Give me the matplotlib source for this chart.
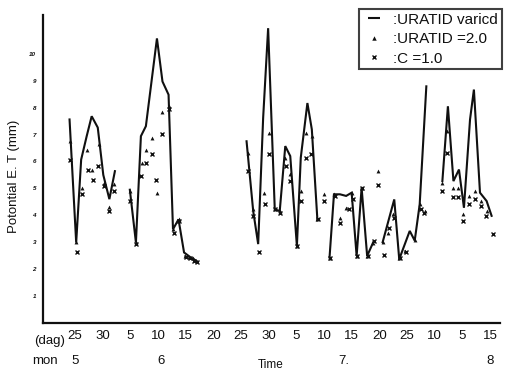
import numpy as np
import matplotlib
matplotlib.use("Agg")
import matplotlib.pyplot as plt
from matplotlib.lines import Line2D

plt.rcParams['font.family'] = ['Liberation Sans', 'DejaVu Sans']

nan = np.nan
# x = days since 25 May; NaN separates gaps in the record
line_days = [-1.0, 0.2, 1.1, 2.1, 3.0, 4.1, 5.1, 6.2, 7.2, nan,
             9.9, 11.0, 11.9, 12.8, 14.8, 15.8, 16.9, 17.7, 18.7, 19.7, 20.8, 21.6, 22.0, nan,
             31.0, 32.2, 33.1, 34.0, 34.9, 36.1, 37.0, 38.0, 38.9, 40.1, 40.8, 42.0, 42.8, 43.8, nan,
             46.0, 46.8, 47.9, 49.0, 50.0, 50.9, 51.8, 52.8, 53.9, nan,
             55.6, 57.7, 58.6, 60.5, 61.4, 62.3, 63.5, nan,
             66.4, 67.4, 68.4, 69.4, 70.3, 71.4, 72.1, 73.2, 74.4, 75.3]
line_vals = [7.56, 2.99, 6.07, 6.94, 7.68, 7.26, 5.5, 4.6, 5.64, nan,
             4.95, 2.99, 6.94, 7.31, 10.57, 8.97, 8.48, 3.48, 3.85, 2.62, 2.45, 2.35, 2.3, nan,
             6.75, 4.16, 2.93, 7.62, 10.95, 4.22, 4.16, 6.57, 6.2, 2.86, 6.14, 8.17, 7.19, 3.85, nan,
             2.43, 4.78, 4.78, 4.72, 4.84, 2.49, 5.02, 2.49, 3.0, nan,
             3.0, 4.59, 2.37, 3.42, 3.06, 4.41, 8.79, nan,
             5.27, 8.05, 5.27, 5.7, 4.28, 7.56, 8.67, 4.84, 4.53, 3.98]

tri_days = [-1.0, 0.2, 1.2, 2.1, 3.1, 4.3, 5.2, 6.1, 7.1,
            9.9, 11.0, 12.1, 12.9, 13.9, 14.9, 15.8, 16.9, 17.7, 18.7, 19.9, 20.6, 21.3,
            31.2, 32.2, 34.2, 35.0, 36.1, 37.0, 38.0, 38.9, 40.1, 40.9, 41.8, 42.8, 43.8, 45.0,
            46.0, 46.8, 47.9, 49.0, 50.0, 50.9, 51.8, 52.8, 53.9, 54.8, 55.7, 56.6, 57.5, 58.6, 59.6, 61.4, 62.3, 63.3,
            66.4, 67.3, 68.4, 69.3, 70.2, 71.2, 72.3, 73.3, 74.4]
tri_vals = [6.75, 3.0, 5.03, 6.44, 5.7, 6.63, 5.2, 4.3, 5.15,
            4.9, 3.0, 5.95, 6.44, 6.88, 4.84, 7.83, 8.05, 3.48, 3.85, 2.49, 2.44, 2.4,
            6.31, 4.22, 4.84, 7.06, 4.22, 4.16, 6.14, 5.52, 2.86, 4.9, 7.06, 6.94, 3.85, 4.81,
            2.43, 4.78, 3.91, 4.28, 4.84, 2.49, 5.02, 2.49, 2.99, 5.64, 3.0, 3.36, 4.04, 2.43, 2.68, 3.1, 4.41, 4.16,
            5.21, 7.12, 5.0, 5.0, 4.04, 4.72, 4.9, 4.53, 4.16]

c_days = [-1.0, 0.3, 1.2, 2.3, 3.2, 4.1, 5.2, 6.1, 7.1,
          9.9, 11.1, 11.9, 12.9, 13.9, 14.7, 15.8, 16.9, 17.8, 18.8, 20.1, 20.8, 21.5, 22.0,
          31.3, 32.2, 33.3, 34.3, 35.0, 36.2, 37.1, 38.1, 38.9, 40.2, 40.9, 41.8, 42.6, 43.9, 45.0,
          46.1, 46.9, 47.9, 49.6, 50.2, 51.0, 51.9, 52.9, 54.1, 54.8, 55.8, 56.8, 57.6, 58.7, 59.8, 62.5, 63.1,
          66.4, 67.3, 68.4, 69.3, 70.2, 71.2, 72.3, 73.3, 74.3, 75.6]
c_vals = [6.04, 2.62, 4.78, 5.7, 5.3, 5.83, 5.09, 4.15, 4.9,
          4.53, 2.95, 5.46, 5.93, 6.26, 5.33, 7.02, 7.95, 3.36, 3.79, 2.45, 2.4, 2.32, 2.28,
          5.64, 3.98, 2.62, 4.41, 6.26, 4.22, 4.1, 5.83, 5.27, 2.86, 4.53, 6.14, 6.26, 3.85, 4.53,
          2.43, 4.7, 3.7, 4.22, 4.6, 2.49, 5.02, 2.49, 3.06, 5.11, 2.52, 3.54, 3.91, 2.43, 2.62, 4.22, 4.1,
          4.9, 6.31, 4.69, 4.69, 3.79, 4.41, 4.59, 4.35, 3.98, 3.3]

tick_days = [0, 5, 10, 15, 20, 25, 30, 35, 40, 45, 50, 55, 60, 65, 70, 75]
tick_labels = ['25', '30', '5', '10', '15', '20', '25', '30', '5', '10', '15', '20', '25', '10', '5', '15']
month_days = [0, 15.5, 48.5, 75]
month_labels = ['5', '6', '7.', '8']
y_ticks = [1, 2, 3, 4, 5, 6, 7, 8, 9, 10]

ink = '#101010'
fig = plt.figure(figsize=(5.07, 3.72), dpi=100)
ax = fig.add_axes([0.0848, 0.1317, 0.9012, 0.828])

ax.plot(line_days, line_vals, color=ink, lw=1.5, solid_joinstyle='miter')
ax.plot(tri_days, tri_vals, ls='none', marker='^', ms=2.8, color=ink, mew=0)
ax.plot(c_days, c_vals, ls='none', marker='x', ms=2.4, color=ink, mew=1.0)

ax.set_xlim(-5.8, 76.8)
ax.set_ylim(0, 11.44)
for s in ['top', 'right']:
    ax.spines[s].set_visible(False)
for s in ['left', 'bottom']:
    ax.spines[s].set_linewidth(1.6)
    ax.spines[s].set_color(ink)

ax.set_xticks(tick_days)
ax.set_xticklabels(tick_labels, fontsize=9.5, color=ink)
ax.set_yticks(y_ticks)
ax.set_yticklabels([str(v) for v in y_ticks], fontsize=4.5, style='italic', fontweight='bold', color=ink)
ax.tick_params(axis='both', length=0)
ax.tick_params(axis='x', pad=5)
ax.tick_params(axis='y', pad=5)

trans = ax.get_xaxis_transform()
ax.text(-1.8, -0.04, '(dag)', transform=trans, fontsize=9.5, color=ink, ha='right', va='top')
ax.text(-3.1, -0.105, 'mon', transform=trans, fontsize=9.5, color=ink, ha='right', va='top')
for d, lab in zip(month_days, month_labels):
    ax.text(d, -0.105, lab, transform=trans, fontsize=9.5, color=ink, ha='center', va='top')

fig.text(271 / 507, 1 - 365 / 372, 'Time', fontsize=8.5, color=ink, ha='center', va='center')
fig.text(14 / 507, 1 - 176 / 372, 'Potontial E. T (mm)', fontsize=9.5, color=ink,
         rotation=90, ha='center', va='center')

handles = [Line2D([], [], ls='none', marker='_', ms=9, mew=1.5, color=ink),
           Line2D([], [], ls='none', marker='^', ms=3.2, color=ink, mew=0),
           Line2D([], [], ls='none', marker='x', ms=3, color=ink, mew=1.0)]
labels = [':URATID varicd', ':URATID =2.0', ':C =1.0']
leg = fig.legend(handles, labels, loc='upper left', bbox_to_anchor=(359 / 507, 1 - 9 / 372),
                 frameon=True, fancybox=False, edgecolor=ink, fontsize=11,
                 handlelength=1.4, handletextpad=0.6, borderpad=0.25, labelspacing=0.35,
                 borderaxespad=0)
leg.get_frame().set_linewidth(1.5)
for t in leg.get_texts():
    t.set_color(ink)

fig.savefig('out.png', dpi=100)
